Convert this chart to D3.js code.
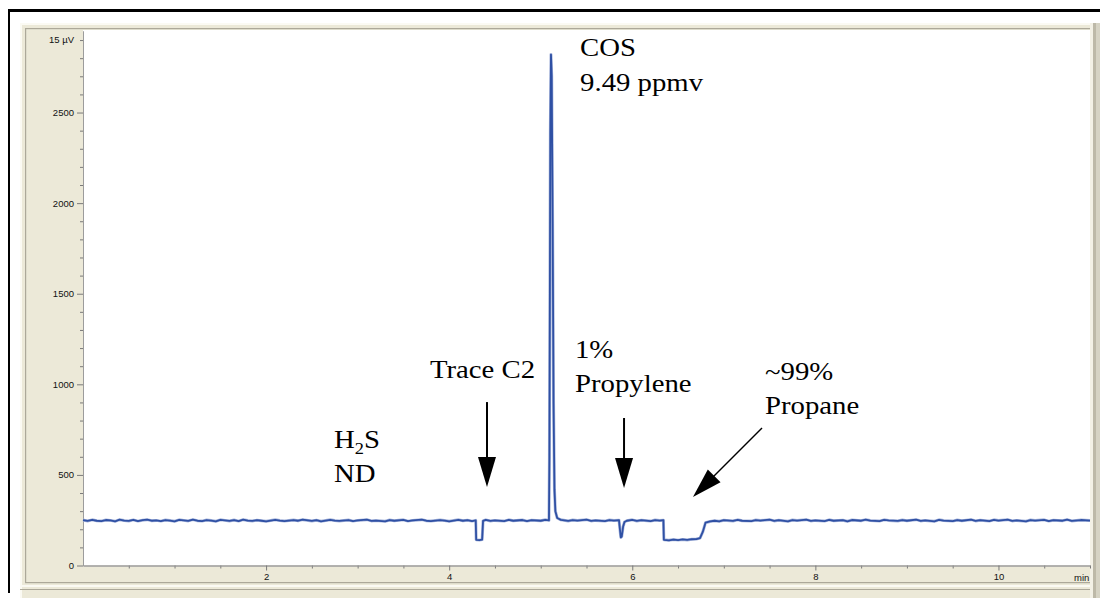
<!DOCTYPE html>
<html><head><meta charset="utf-8">
<script src="https://cdn.jsdelivr.net/npm/d3@7"></script>
<style>html,body{margin:0;padding:0;background:#fff;} svg{display:block;}</style>
</head><body><svg id="c" width="1100" height="598"></svg>
<script>
// ---- data: chromatogram [time (min), signal (µV)] ----
const chromatogram = [
[0.00,251],[0.05,246],[0.10,252],[0.15,247],[0.20,245],[0.25,251],[0.30,249],[0.35,244],[0.40,253],[0.45,248],
[0.50,246],[0.55,252],[0.60,245],[0.65,250],[0.70,253],[0.75,247],[0.80,249],[0.85,245],[0.90,251],[0.95,248],
[1.00,244],[1.05,252],[1.10,249],[1.15,246],[1.20,253],[1.25,247],[1.30,245],[1.35,251],[1.40,248],[1.45,244],
[1.50,252],[1.55,249],[1.60,246],[1.65,251],[1.70,245],[1.75,253],[1.80,248],[1.85,246],[1.90,250],[1.95,247],
[2.00,244],[2.10,252],[2.15,248],[2.20,245],[2.30,251],[2.35,247],[2.40,253],[2.50,246],[2.55,250],[2.60,244],
[2.70,252],[2.75,248],[2.80,246],[2.90,251],[2.95,245],[3.00,249],[3.10,253],[3.15,246],[3.20,248],[3.30,244],
[3.35,251],[3.40,247],[3.50,252],[3.55,245],[3.60,249],[3.70,253],[3.75,247],[3.80,245],[3.90,251],[3.95,248],
[4.00,244],[4.10,252],[4.15,247],[4.20,250],[4.25,245],[4.29,249],[4.295,142],[4.33,140],[4.36,143],[4.37,246],
[4.40,252],[4.45,246],[4.50,249],[4.60,245],[4.65,252],[4.70,247],[4.80,251],[4.85,245],[4.90,250],[5.00,247],
[5.05,252],[5.09,249],[5.095,600],[5.10,1500],[5.105,2400],[5.112,2820],[5.12,2700],[5.13,1900],[5.14,900],[5.15,420],
[5.16,300],[5.18,262],[5.22,252],[5.30,246],[5.35,251],[5.40,248],[5.50,253],[5.55,246],[5.60,249],[5.70,245],
[5.75,251],[5.80,248],[5.855,250],[5.865,200],[5.875,155],[5.885,160],[5.90,215],[5.915,240],[5.94,247],[6.00,252],
[6.05,246],[6.10,250],[6.20,245],[6.25,251],[6.30,248],[6.34,250],[6.345,142],[6.40,139],[6.45,143],[6.50,140],
[6.55,144],[6.60,141],[6.65,145],[6.70,146],[6.74,151],[6.77,185],[6.80,236],[6.85,243],[6.90,247],[6.95,244],
[7.00,250],[7.10,246],[7.15,252],[7.20,247],[7.30,245],[7.35,251],[7.40,248],[7.50,253],[7.55,246],[7.60,250],
[7.70,244],[7.75,251],[7.80,248],[7.90,253],[7.95,246],[8.00,249],[8.10,245],[8.15,252],[8.20,247],[8.30,250],
[8.35,244],[8.40,251],[8.50,247],[8.55,253],[8.60,248],[8.70,245],[8.75,252],[8.80,249],[8.90,246],[8.95,251],
[9.00,247],[9.10,253],[9.15,246],[9.20,249],[9.30,244],[9.35,252],[9.40,248],[9.50,245],[9.55,251],[9.60,247],
[9.70,253],[9.75,246],[9.80,250],[9.90,245],[9.95,252],[10.00,248],[10.10,253],[10.15,246],[10.20,249],[10.30,244],
[10.35,251],[10.40,248],[10.50,252],[10.55,245],[10.60,250],[10.70,247],[10.75,253],[10.80,246],[10.90,251],[11.00,248]
];
const yMajorTicks = [0, 500, 1000, 1500, 2000, 2500];
const yTickLabels = ["0", "500", "1000", "1500", "2000", "2500"];
const yUnitTick = 2900;
const yUnitLabel = "15 µV";
const xMajorTicks = [2, 4, 6, 8, 10];
const xTickLabels = ["2", "4", "6", "8", "10"];
const xUnitLabel = "min";

// annotations anchored in data coordinates
const labels = [
  {t:5.43, v:2812, parts:[["COS",0]]},
  {t:5.43, v:2619, parts:[["9.49 ppmv",0]]},
  {t:3.79, v:1035, parts:[["Trace C2",0]]},
  {t:2.742, v:648, parts:[["H",0],["2",1],["S",0]]},
  {t:2.742, v:461, parts:[["ND",0]]},
  {t:5.374, v:1145, parts:[["1%",0]]},
  {t:5.374, v:958, parts:[["Propylene",0]]},
  {t:7.45, v:1024, parts:[["~99%",0]]},
  {t:7.45, v:836, parts:[["Propane",0]]}
];
const arrows = [
  {t0:4.413, v0:902, t1:4.413, v1:433},
  {t0:5.91, v0:814, t1:5.91, v1:428},
  {t0:7.417, v0:759, t1:6.663, v1:378}
];

const svg = d3.select("#c");
const beige = "#ece9d8", bevelDark = "#aca899", bevelLight = "#fbfaf3";

// frame
svg.append("rect").attr("x",0).attr("y",0).attr("width",1100).attr("height",598).attr("fill","#fff");
svg.append("rect").attr("x",20).attr("y",23).attr("width",1080).attr("height",575).attr("fill",beige);
svg.append("rect").attr("x",20).attr("y",23).attr("width",1080).attr("height",2).attr("fill",bevelLight);
svg.append("rect").attr("x",20).attr("y",23).attr("width",2).attr("height",575).attr("fill",bevelLight);
svg.append("rect").attr("x",25).attr("y",28).attr("width",1065).attr("height",1.2).attr("fill",bevelDark);
svg.append("rect").attr("x",25).attr("y",28).attr("width",1.2).attr("height",555).attr("fill",bevelDark);
svg.append("rect").attr("x",25).attr("y",582).attr("width",1065).attr("height",1.2).attr("fill",bevelDark);
svg.append("rect").attr("x",20).attr("y",585).attr("width",1080).attr("height",2).attr("fill",bevelLight);
svg.append("rect").attr("x",20).attr("y",589).attr("width",1080).attr("height",1).attr("fill",bevelDark);
svg.append("rect").attr("x",1090).attr("y",23).attr("width",3).attr("height",575).attr("fill","#f3f1e6");
svg.append("rect").attr("x",1093).attr("y",23).attr("width",3).attr("height",575).attr("fill","#bdb9a8");
svg.append("rect").attr("x",1096).attr("y",23).attr("width",4).attr("height",575).attr("fill","#d6d3c4");
// black border
svg.append("rect").attr("x",8).attr("y",9).attr("width",1092).attr("height",3).attr("fill","#000");
svg.append("rect").attr("x",8).attr("y",9).attr("width",2).attr("height",584).attr("fill","#000");

// scales
const x = d3.scaleLinear().domain([0, 11]).range([83, 1090]);
const y = d3.scaleLinear().domain([0, 2950]).range([565.5, 31]);

// plot area
svg.append("rect").attr("x",x(0)).attr("y",30).attr("width",x(11)-x(0)).attr("height",y(0)-30).attr("fill","#fff");

// axes
const axisColor = "#9c9c9c";
const fontSans = "'Liberation Sans', Arial, sans-serif";
const yMinor = d3.range(0, 2901, 100).filter(v => v % 500 !== 0);
const xMinor = d3.range(0.5, 11.01, 0.5).filter(v => !xMajorTicks.includes(v));

function style(g){
  g.select(".domain").attr("stroke", axisColor);
  g.selectAll(".tick line").attr("stroke", "#7a7a7a");
  g.selectAll("text").attr("fill","#111").style("font-family", fontSans).style("font-size","9.5px");
}
svg.append("g").attr("transform",`translate(${x(0)},0)`)
  .call(d3.axisLeft(y).tickValues(yMinor).tickSize(3).tickSizeOuter(0).tickFormat(""))
  .call(style);
svg.append("g").attr("transform",`translate(${x(0)},0)`)
  .call(d3.axisLeft(y).tickValues(yMajorTicks).tickSize(6).tickSizeOuter(0)
        .tickFormat((d,i) => yTickLabels[i]))
  .call(style);
svg.append("text").attr("x", x(0)-9).attr("y", y(yUnitTick)).attr("dy","0.35em")
  .attr("text-anchor","end").attr("fill","#111")
  .style("font-family", fontSans).style("font-size","9.5px").text(yUnitLabel);

svg.append("g").attr("transform",`translate(0,${y(0)})`)
  .call(d3.axisBottom(x).tickValues(xMinor).tickSize(3).tickSizeOuter(0).tickFormat(""))
  .call(style);
svg.append("g").attr("transform",`translate(0,${y(0)})`)
  .call(d3.axisBottom(x).tickValues(xMajorTicks).tickSize(5).tickSizeOuter(0)
        .tickFormat((d,i) => xTickLabels[i]))
  .call(style);
svg.append("text").attr("x", x(11)-16).attr("y", y(0)+15)
  .attr("fill","#111").style("font-family", fontSans).style("font-size","9.5px").text(xUnitLabel);

// trace
const line = d3.line().x(d => x(d[0])).y(d => y(d[1]));
svg.append("path").datum(chromatogram).attr("d", line)
  .attr("fill","none").attr("stroke","#a9b7dc").attr("stroke-width",3).attr("stroke-linejoin","round");
svg.append("path").datum(chromatogram).attr("d", line)
  .attr("fill","none").attr("stroke","#2f50a4").attr("stroke-width",1.8).attr("stroke-linejoin","round");

// labels
const serif = "'Liberation Serif', 'Times New Roman', serif";
labels.forEach(l => {
  const t = svg.append("text")
    .attr("transform", `translate(${x(l.t)},${y(l.v)}) scale(1.15,1)`)
    .attr("fill","#000").style("font-family", serif).style("font-size","25px");
  l.parts.forEach(p => {
    const s = t.append("tspan").text(p[0]);
    if (p[1]) s.style("font-size","16px").attr("dy", 6);
    else if (t.selectAll("tspan").size() > 1) s.attr("dy", -6);
  });
});

// arrows
arrows.forEach(a => {
  const x0 = x(a.t0), y0 = y(a.v0), x1 = x(a.t1), y1 = y(a.v1);
  const dx = x1-x0, dy = y1-y0, L = Math.hypot(dx,dy), ux = dx/L, uy = dy/L;
  const hl = 30, hw = 9;
  const bx = x1 - ux*hl, by = y1 - uy*hl;
  svg.append("line").attr("x1",x0).attr("y1",y0).attr("x2",bx+ux*2).attr("y2",by+uy*2)
    .attr("stroke","#000").attr("stroke-width", Math.abs(dx) > 1 ? 1.4 : 2);
  svg.append("path")
    .attr("d", `M${x1},${y1}L${bx - uy*hw},${by + ux*hw}L${bx + uy*hw},${by - ux*hw}Z`)
    .attr("fill","#000");
});
</script></body></html>
